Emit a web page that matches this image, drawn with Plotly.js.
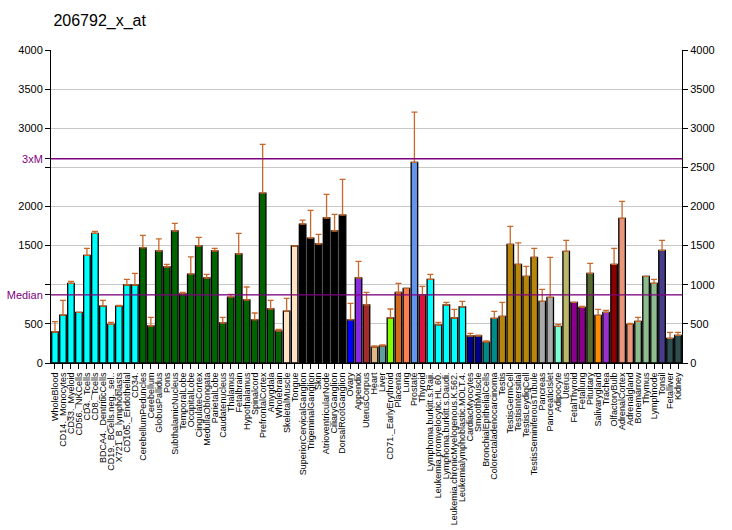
<!DOCTYPE html>
<html>
<head>
<meta charset="utf-8">
<script src="https://cdn.plot.ly/plotly-3.0.1.min.js"></script>
<style>html,body{margin:0;padding:0;background:#fff;}#chart{width:732px;height:530px;}</style>
</head>
<body>
<div id="chart"></div>
<script>
// ---- data ----
var categories = [
  "WholeBlood","CD14._Monocytes","CD33._Myeloid","CD56._NKCells","CD4._Tcells","CD8._Tcells",
  "BDCA4._DentriticCells","CD19._BCells.neg._sel..","X721_B_lymphoblasts","CD105._Endothelial","CD34.",
  "CerebellumPeduncles","Cerebellum","GlobusPallidus","Pons","SubthalamicNucleus","TemporalLobe",
  "OccipitalLobe","CingulateCortex","MedullaOblongata","ParietalLobe","Caudatenucleus","Thalamus",
  "Fetalbrain","Hypothalamus","Spinalcord","PrefrontalCortex","Amygdala","Wholebrain",
  "SkeletalMuscle","Tongue","SuperiorCervicalGanglion","TrigeminalGanglion","Skin",
  "AtrioventricularNode","CiliaryGanglion","DorsalRootGanglion","Ovary","Appendix","UterusCorpus",
  "Heart","Liver","CD71._EarlyErythroid","Placenta","Lung","Prostate","Thyroid",
  "Lymphoma.burkitt.s.Raji.","Leukemia.promyelocytic.HL.60.","Lymphoma.burkitt.s.Daudi.",
  "Leukemia.chronicMyelogenous.K.562.","Leukemialymphoblastic.MOLT.4.","CardiacMyocytes",
  "SmoothMuscle","BronchialEpithelialCells","Colorectaladenocarcinoma","Testis","TestisGermCell",
  "TestisIntersitial","TestisLeydigCell","TestisSeminiferousTubule","Pancreas","PancreaticIslet",
  "Adipocyte","Uterus","FetalThyroid","Fetallung","Pituitary","Salivarygland","Trachea",
  "OlfactoryBulb","AdrenalCortex","Adrenalgland","Bonemarrow","Thymus","Lymphnode","Tonsil",
  "Fetalliver","Kidney"
];
var values = [
  396,613,1018,647,1376,1657,728,494,728,997,997,
  1470,473,1431,1227,1687,882,1137,1495,1086,1431,511,843,1393,805,550,2172,690,409,
  664,1495,1776,1597,1521,1853,1687,1891,550,1086,741,
  204,217,575,903,954,2565,869,
  1069,486,741,575,716,345,345,268,571,
  596,1516,1261,1108,1350,788,839,469,1427,775,711,1146,609,647,
  1261,1849,494,532,1108,1018,1440,315,354
];
var errorUp = [
  132,188,26,null,89,25,73,26,9,72,149,
  161,111,154,34,98,21,218,111,47,34,73,35,264,166,89,623,111,21,
  162,null,51,354,123,303,213,456,212,213,162,
  13,13,115,115,null,640,111,
  64,34,34,111,72,34,10,13,89,
  179,230,274,127,115,153,511,25,141,null,13,128,77,26,
  204,217,13,52,null,51,128,77,38
];
var barColors = [
  "#00FFFF","#00FFFF","#00FFFF","#00FFFF","#00FFFF","#00FFFF","#00FFFF","#00FFFF","#00FFFF","#00FFFF","#00FFFF",
  "#006400","#006400","#006400","#006400","#006400","#006400","#006400","#006400","#006400","#006400",
  "#006400","#006400","#006400","#006400","#006400","#006400","#006400","#006400",
  "#FFE4C4","#FFE4C4","#000000","#000000","#000000","#000000","#000000","#000000",
  "#0000FF","#8A2BE2","#A52A2A","#DEB887","#5F9EA0","#7FFF00","#D2691E","#FF7F50","#6495ED","#DC143C",
  "#00FFFF","#00FFFF","#00FFFF","#00FFFF","#00FFFF","#00008B","#00008B","#008B8B","#008B8B",
  "#B8860B","#B8860B","#B8860B","#B8860B","#B8860B","#A9A9A9","#A9A9A9","#7FFFD4","#BDB76B",
  "#8B008B","#8B008B","#556B2F","#FF8C00","#9932CC","#8B0000","#E9967A","#E9967A",
  "#8FBC8F","#8FBC8F","#8FBC8F","#483D8B","#2F4F4F","#2F4F4F"
];
var medianValue = 870;
var threeXMedian = 2610;
var leftTickVals = [0,500,medianValue,1000,1500,2000,2500,threeXMedian,3000,3500,4000];
var leftTickText = ["0","500","<span style='color:#800080'>Median</span>","","1500","2000","","<span style='color:#800080'>3xM</span>","3000","3500","4000"];
var rightTickVals = [0,500,1000,1500,2000,2500,3000,3500,4000];

var fontName = "Liberation Sans, Arial, sans-serif";

var traces = [
  {
    type: "bar",
    x: categories,
    y: values,
    marker: {color: barColors, line: {color: "#000000", width: 1.3}},
    error_y: {type: "data", symmetric: false, array: errorUp,
              arrayminus: errorUp.map(function(){return 0;}),
              color: "#C8692C", thickness: 1.3, width: 3},
    hoverinfo: "x+y",
    showlegend: false
  },
  {
    type: "scatter",
    x: [categories[0]],
    y: [0],
    yaxis: "y2",
    mode: "markers",
    marker: {opacity: 0},
    hoverinfo: "skip",
    showlegend: false
  }
];

var layout = {
  width: 732,
  height: 530,
  margin: {l: 51, r: 50, t: 50, b: 167},
  paper_bgcolor: "#ffffff",
  plot_bgcolor: "#ffffff",
  font: {family: fontName, size: 11, color: "#000000"},
  title: {text: "206792_x_at", font: {family: fontName, size: 16, color: "#000000"},
          xref: "container", yref: "container", x: 0.073, xanchor: "left", y: 0.962, yanchor: "middle"},
  bargap: 0.18,
  xaxis: {
    type: "category",
    range: [-0.5, categories.length - 0.5],
    tickmode: "array",
    tickvals: categories,
    ticktext: categories,
    tickangle: -90,
    tickfont: {family: fontName, size: 9, color: "#000000"},
    ticks: "outside", ticklen: 5, tickcolor: "#000000", tickwidth: 1,
    showline: true, linecolor: "#000000", linewidth: 1,
    showgrid: false, zeroline: false, automargin: false
  },
  yaxis: {
    range: [0, 4000],
    tickmode: "array", tickvals: leftTickVals, ticktext: leftTickText,
    tickfont: {family: fontName, size: 11, color: "#000000"},
    ticks: "outside", ticklen: 5, tickcolor: "#000000",
    showline: true, linecolor: "#000000", linewidth: 1,
    showgrid: true, gridcolor: "#C8C8C8", gridwidth: 1,
    zeroline: false, automargin: false, fixedrange: true
  },
  yaxis2: {
    range: [0, 4000],
    overlaying: "y", side: "right",
    tickmode: "array", tickvals: rightTickVals,
    tickfont: {family: fontName, size: 11, color: "#000000"},
    ticks: "outside", ticklen: 5, tickcolor: "#000000",
    showline: true, linecolor: "#000000", linewidth: 1,
    showgrid: false, zeroline: false, automargin: false
  },
  shapes: [
    {type: "line", xref: "paper", x0: 0, x1: 1, yref: "y", y0: medianValue, y1: medianValue,
     line: {color: "#800080", width: 1.3}, layer: "above"},
    {type: "line", xref: "paper", x0: 0, x1: 1, yref: "y", y0: threeXMedian, y1: threeXMedian,
     line: {color: "#800080", width: 1.3}, layer: "above"}
  ]
};

Plotly.newPlot("chart", traces, layout, {displayModeBar: false, staticPlot: true});
</script>
</body>
</html>
